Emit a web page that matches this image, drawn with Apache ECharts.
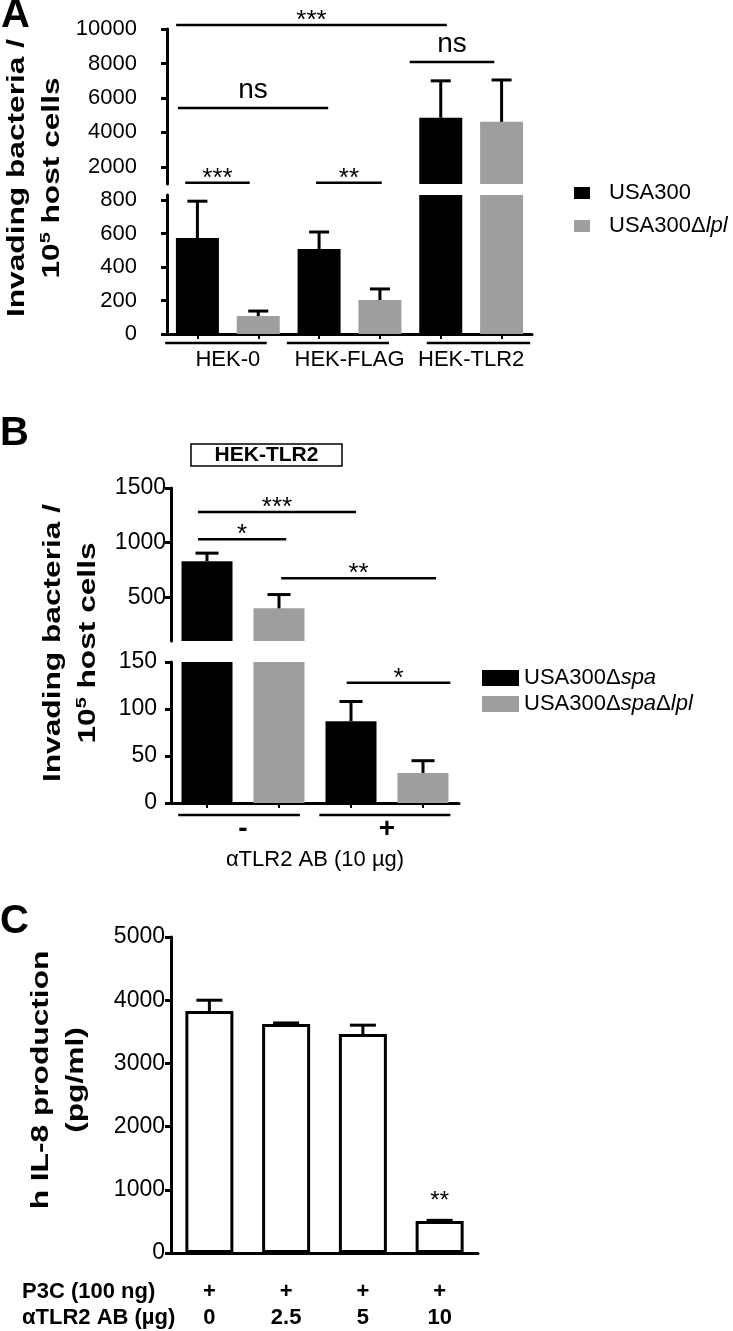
<!DOCTYPE html>
<html>
<head>
<meta charset="utf-8">
<script src="https://cdn.jsdelivr.net/npm/echarts@6/dist/echarts.min.js"></script>
<style>
  html, body { margin: 0; background: #fff; }
  #chart { width: 733px; height: 1331px; }
</style>
</head>
<body>
<div id="chart"></div>
<script>
const FONT = "'Liberation Sans', Arial, Helvetica, sans-serif";

// ---- panel A: invasion, broken y axis
const aGroups = ['HEK-0', 'HEK-FLAG', 'HEK-TLR2'];
const aUSA300 = [573, 507, 4840];
const aUSA300Err = [220, 102, 2150];
const aLpl = [107, 203, 4610];
const aLplErr = [30, 66, 2430];
const aLowTicks = [0, 200, 400, 600, 800];
const aHighTicks = [2000, 4000, 6000, 8000, 10000];
// significance bars, x in bar slots (0..5), y in upper-axis units
const aSig = [
  { from: -0.35, to: 4.10, y: 10232, text: '***' },
  { from: -0.32, to: 2.15, y: 5420, text: 'ns' },
  { from: -0.20, to: 0.86, y: 1075, text: '***' },
  { from: 1.95, to: 3.03, y: 1075, text: '**' },
  { from: 3.49, to: 4.88, y: 8087, text: 'ns' },
];
const aGroupLines = [[-0.53, 1.14], [1.47, 3.15], [3.77, 5.47]];

// ---- panel B: HEK-TLR2 with antibody
const bGroups = ['-', '+'];
const bSpa = [830, 87];
const bSpaErr = [74, 21];
const bSpaLpl = [399, 32];
const bSpaLplErr = [126, 13];
const bLowTicks = [0, 50, 100, 150];
const bHighTicks = [500, 1000, 1500];
const bSigHigh = [
  { from: -0.125, to: 2.07, y: 1280, text: '***' },
  { from: -0.125, to: 1.10, y: 1032, text: '*' },
  { from: 1.03, to: 3.18, y: 674, text: '**' },
];
const bSigLow = [{ from: 1.94, to: 3.38, y: 128, text: '*' }];
const bGroupLines = [[-0.40, 1.29], [1.56, 3.38]];

// ---- panel C: IL-8
const cP3C = ['+', '+', '+', '+'];
const cAntibody = ['0', '2.5', '5', '10'];
const cIL8 = [3830, 3625, 3465, 505];
const cIL8Err = [170, 15, 140, 12];
const cStars = ['', '', '', '**'];
const cTicks = [0, 1000, 2000, 3000, 4000, 5000];

const GRAY = '#9e9e9e';
const txt = (size, extra) => Object.assign({ fontSize: size, fontFamily: FONT, color: '#000' }, extra);

// bars of one series sit in every other slot: group g, series s -> slot 2g+s
const slots = (vals, s) => vals.map((v, g) => [2 * g + s, v]);
const errSlots = (vals, errs, s) => vals.map((v, g) => [2 * g + s, v, errs[g]]);

function valueY(gridIndex, min, max, ticks, margin, size) {
  return {
    type: 'value', gridIndex, min, max,
    axisLine: { show: true, onZero: false, lineStyle: { color: '#000', width: 3 } },
    axisTick: { show: true, length: 6, customValues: ticks, lineStyle: { color: '#000', width: 3 } },
    axisLabel: Object.assign({ customValues: ticks, margin, formatter: (v) => String(v) }, txt(size)),
    splitLine: { show: false },
  };
}

function slotX(gridIndex, n, visible) {
  return {
    type: 'value', gridIndex, min: -0.5, max: n - 0.5, show: visible, position: 'bottom',
    axisLine: { onZero: false, lineStyle: { color: '#000', width: 3 } },
    axisTick: { customValues: [...Array(n).keys()], length: 5, lineStyle: { color: '#000', width: 2 } },
    axisLabel: { show: false },
    splitLine: { show: false },
  };
}

function groupX(gridIndex, groups, margin, labelStyle, extra) {
  return Object.assign({
    type: 'category', gridIndex, data: groups, position: 'bottom',
    axisLine: { show: false, onZero: false }, axisTick: { show: false },
    axisLabel: Object.assign({ margin, interval: 0, hideOverlap: false }, labelStyle),
    splitLine: { show: false },
  }, extra);
}

function barSeries(name, data, xi, yi, width, color) {
  return {
    type: 'bar', name, data, xAxisIndex: xi, yAxisIndex: yi,
    barWidth: width, barGap: '-100%', clip: true, silent: true,
    itemStyle: { color },
  };
}

function errorSeries(data, xi, yi, cap) {
  return {
    type: 'custom', xAxisIndex: xi, yAxisIndex: yi, data, silent: true, z: 5,
    renderItem(params, api) {
      const cs = params.coordSys;
      const base = api.coord([api.value(0), api.value(1)]);
      if (base[1] < cs.y - 1 || base[1] > cs.y + cs.height + 1) return;
      const tip = api.coord([api.value(0), api.value(1) + api.value(2)]);
      const ls = { stroke: '#000', lineWidth: 3 };
      return {
        type: 'group', children: [
          { type: 'line', shape: { x1: base[0], y1: base[1], x2: tip[0], y2: tip[1] }, style: ls },
          { type: 'line', shape: { x1: tip[0] - cap / 2, y1: tip[1], x2: tip[0] + cap / 2, y2: tip[1] }, style: ls },
        ],
      };
    },
  };
}

function sigSeries(list, xi, yi) {
  return {
    type: 'custom', xAxisIndex: xi, yAxisIndex: yi, silent: true, z: 5,
    data: list.map((s) => [s.from, s.y, s.to]),
    renderItem(params, api) {
      const s = list[params.dataIndex];
      const a = api.coord([s.from, s.y]);
      const b = api.coord([s.to, s.y]);
      const star = s.text[0] === '*';
      return {
        type: 'group', children: [
          { type: 'line', shape: { x1: a[0], y1: a[1], x2: b[0], y2: b[1] }, style: { stroke: '#000', lineWidth: 2.5 } },
          {
            type: 'text', x: (a[0] + b[0]) / 2, y: a[1] - (star ? 4 : 18),
            style: { text: s.text, fill: '#000', fontSize: star ? 26 : 28, fontFamily: FONT, align: 'center', verticalAlign: 'middle' },
          },
        ],
      };
    },
  };
}

function underlineSeries(list, xi, yi, drop) {
  return {
    type: 'custom', xAxisIndex: xi, yAxisIndex: yi, silent: true,
    data: list.map(([a, b]) => [a, 0, b]),
    renderItem(params, api) {
      const a = api.coord([api.value(0), api.value(1)]);
      const b = api.coord([api.value(2), api.value(1)]);
      return { type: 'line', shape: { x1: a[0], y1: a[1] + drop, x2: b[0], y2: b[1] + drop }, style: { stroke: '#000', lineWidth: 2.5 } };
    },
  };
}

// axis titles read bottom to top and are drawn a bit elongated, as in the figure
function rotatedTitle(x, y, text) {
  return {
    type: 'text', x, y, rotation: Math.PI / 2, scaleX: 1.32,
    style: {
      text, fill: '#000', align: 'center', verticalAlign: 'middle',
      rich: {
        t: { fontSize: 24, fontWeight: 'bold', fontFamily: FONT, lineHeight: 35 },
        s: { fontSize: 15, fontWeight: 'bold', fontFamily: FONT, lineHeight: 35, verticalAlign: 'top', padding: [3, 0, 0, 0] },
      },
    },
  };
}

function plainText(x, y, text, size, weight, align) {
  return {
    type: 'text', x, y,
    style: { text, fill: '#000', fontSize: size, fontWeight: weight, fontFamily: FONT, align: align || 'left', verticalAlign: 'middle' },
  };
}

const italicLegend = (name) => name.replace(/Δ(spa|lpl)/g, 'Δ{i|$1}');

const chart = echarts.init(document.getElementById('chart'));
chart.setOption({
  animation: false,
  backgroundColor: '#fff',
  grid: [
    { left: 167, top: 29, width: 365, height: 155 },   // A upper
    { left: 167, top: 195, width: 365, height: 139 },  // A lower
    { left: 171, top: 488, width: 288, height: 153 },  // B upper
    { left: 171, top: 662, width: 288, height: 141 },  // B lower
    { left: 171, top: 937, width: 307, height: 316 },  // C
  ],
  xAxis: [
    slotX(0, 6, false),
    slotX(1, 6, true),
    groupX(1, aGroups, 15, txt(22)),
    slotX(2, 4, false),
    slotX(3, 4, true),
    groupX(3, bGroups, 12, txt(28, { fontWeight: 'bold' }), {
      name: 'αTLR2 AB (10 µg)', nameLocation: 'middle', nameGap: 46, nameTextStyle: txt(22),
    }),
    {
      type: 'category', gridIndex: 4, data: cAntibody, position: 'bottom',
      axisLine: { onZero: false, lineStyle: { color: '#000', width: 3 } },
      axisTick: { alignWithLabel: true, length: 5, lineStyle: { color: '#000', width: 2 } },
      axisLabel: Object.assign({
        margin: 26, lineHeight: 26, interval: 0,
        formatter: (v, i) => cP3C[i] + '\n' + cAntibody[i],
      }, txt(22, { fontWeight: 'bold' })),
      splitLine: { show: false },
    },
  ],
  yAxis: [
    valueY(0, 1000, 10000, aHighTicks, 30, 22),
    valueY(1, 0, 830, aLowTicks, 30, 22),
    valueY(2, 100, 1500, bHighTicks, 5, 23),
    valueY(3, 0, 150, bLowTicks, 14, 23),
    valueY(4, 0, 5000, cTicks, 6, 23),
  ],
  legend: [
    {
      data: ['USA300', 'USA300Δlpl'], orient: 'vertical', left: 569, top: 177,
      icon: 'rect', itemWidth: 16, itemHeight: 12, itemGap: 11,
      formatter: italicLegend,
      textStyle: txt(22, { padding: [0, 0, 0, 14], rich: { i: { fontStyle: 'italic', fontSize: 22, fontFamily: FONT } } }),
    },
    {
      data: ['USA300Δspa', 'USA300ΔspaΔlpl'], orient: 'vertical', left: 477, top: 662,
      icon: 'rect', itemWidth: 37, itemHeight: 16, itemGap: 4,
      formatter: italicLegend,
      textStyle: txt(22, { rich: { i: { fontStyle: 'italic', fontSize: 22, fontFamily: FONT } } }),
    },
  ],
  series: [
    // A
    barSeries('USA300', slots(aUSA300, 0), 0, 0, 43, '#000'),
    barSeries('USA300', slots(aUSA300, 0), 1, 1, 43, '#000'),
    barSeries('USA300Δlpl', slots(aLpl, 1), 0, 0, 43, GRAY),
    barSeries('USA300Δlpl', slots(aLpl, 1), 1, 1, 43, GRAY),
    errorSeries(errSlots(aUSA300, aUSA300Err, 0), 0, 0, 20),
    errorSeries(errSlots(aUSA300, aUSA300Err, 0), 1, 1, 20),
    errorSeries(errSlots(aLpl, aLplErr, 1), 0, 0, 20),
    errorSeries(errSlots(aLpl, aLplErr, 1), 1, 1, 20),
    sigSeries(aSig, 0, 0),
    underlineSeries(aGroupLines, 1, 1, 9),
    // B
    barSeries('USA300Δspa', slots(bSpa, 0), 3, 2, 51, '#000'),
    barSeries('USA300Δspa', slots(bSpa, 0), 4, 3, 51, '#000'),
    barSeries('USA300ΔspaΔlpl', slots(bSpaLpl, 1), 3, 2, 51, GRAY),
    barSeries('USA300ΔspaΔlpl', slots(bSpaLpl, 1), 4, 3, 51, GRAY),
    errorSeries(errSlots(bSpa, bSpaErr, 0), 3, 2, 23),
    errorSeries(errSlots(bSpa, bSpaErr, 0), 4, 3, 23),
    errorSeries(errSlots(bSpaLpl, bSpaLplErr, 1), 3, 2, 23),
    errorSeries(errSlots(bSpaLpl, bSpaLplErr, 1), 4, 3, 23),
    sigSeries(bSigHigh, 3, 2),
    sigSeries(bSigLow, 4, 3),
    underlineSeries(bGroupLines, 4, 3, 12),
    // C
    {
      type: 'bar', xAxisIndex: 6, yAxisIndex: 4, barWidth: 48, silent: true,
      itemStyle: { color: '#fff', borderColor: '#000', borderWidth: 3 },
      data: cIL8.map((v, i) => ({
        value: v,
        label: { show: !!cStars[i], formatter: cStars[i], position: 'top', distance: 8, fontSize: 24, fontFamily: FONT, color: '#000' },
      })),
    },
    errorSeries(cIL8.map((v, i) => [i, v, cIL8Err[i]]), 6, 4, 26),
  ],
  graphic: [
    plainText(1, 16, 'A', 40, 'bold'),
    plainText(0, 434, 'B', 40, 'bold'),
    plainText(0, 922, 'C', 40, 'bold'),
    rotatedTitle(35, 178, '{t|Invading bacteria /}\n{t|10}{s|5}{t| host cells}'),
    rotatedTitle(71, 643, '{t|Invading bacteria /}\n{t|10}{s|5}{t| host cells}'),
    rotatedTitle(59, 1080, '{t|h IL-8 production}\n{t|(pg/ml)}'),
    { type: 'rect', shape: { x: 191, y: 444, width: 151, height: 22 }, style: { fill: '#fff', stroke: '#000', lineWidth: 1.5 } },
    plainText(266.5, 455.5, 'HEK-TLR2', 21, 'bold', 'center'),
    plainText(22, 1292, 'P3C (100 ng)', 22, 'bold'),
    plainText(22, 1318, 'αTLR2 AB (µg)', 22, 'bold'),
  ],
});
</script>
</body>
</html>
